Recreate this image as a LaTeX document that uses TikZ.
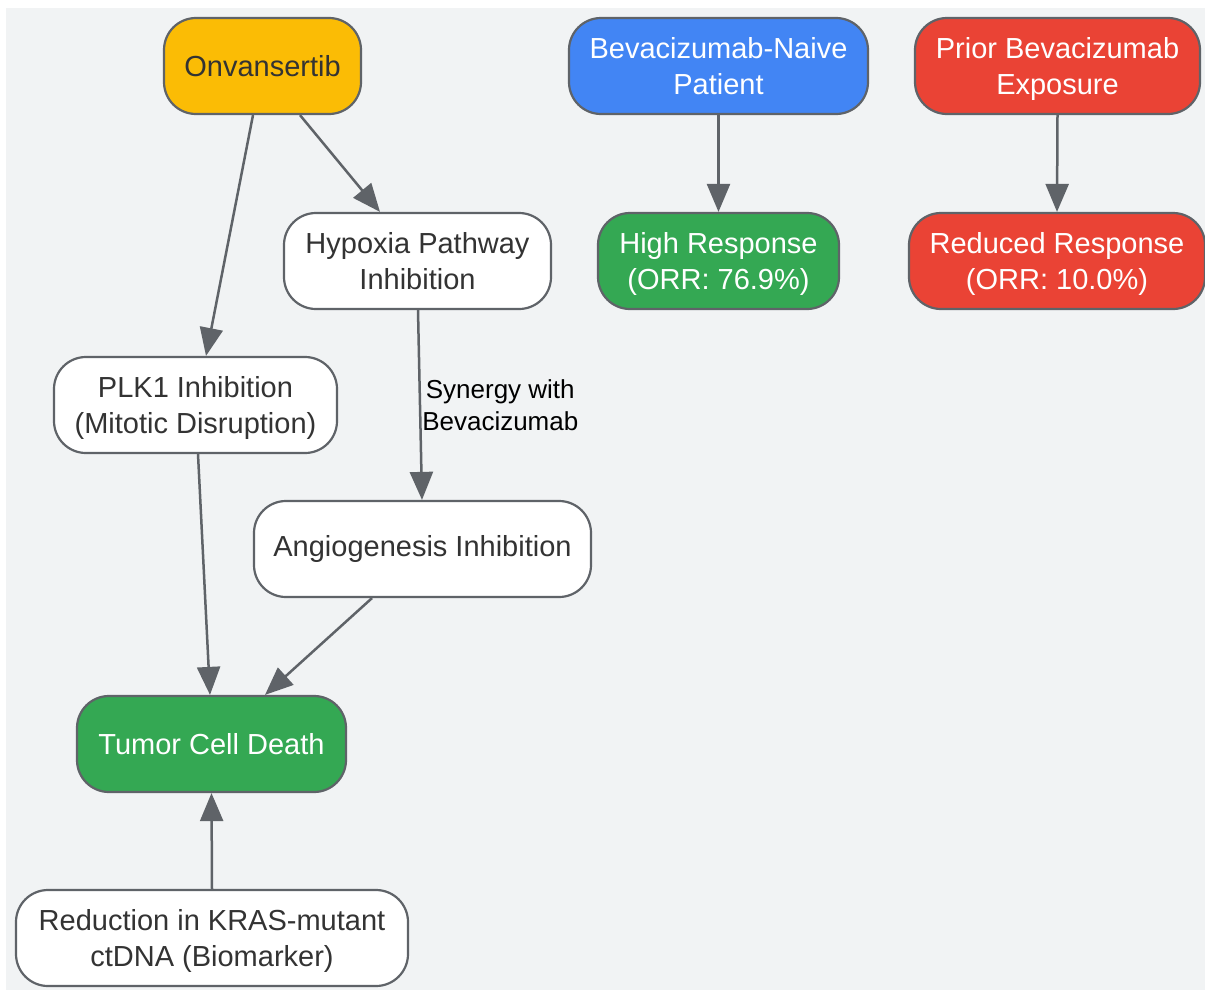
\documentclass[tikz,border=0pt]{standalone}
\usepackage{fontspec}
\setmainfont{Liberation Sans}
\usetikzlibrary{arrows.meta}
\definecolor{bg}{HTML}{F1F3F4}
\definecolor{edgegray}{HTML}{5F6368}
\definecolor{txt}{HTML}{333333}
\definecolor{gyellow}{HTML}{FBBC05}
\definecolor{gblue}{HTML}{4285F4}
\definecolor{gred}{HTML}{EA4335}
\definecolor{ggreen}{HTML}{34A853}
\newcommand{\tstrut}{\rule{0pt}{29pt}}
\newcommand{\bstrut}{\rule[-8pt]{0pt}{8pt}}
\tikzset{
  x=1pt, y=-1pt,
  box/.style={draw=edgegray, line width=2.2pt, rounded corners=32pt, minimum height=96pt,
    inner sep=0pt, align=center, font=\fontsize{29}{36}\selectfont, text=txt},
  whitebox/.style={box, fill=white},
  yellowbox/.style={box, fill=gyellow},
  bluebox/.style={box, fill=gblue, text=white},
  redbox/.style={box, fill=gred, text=white},
  greenbox/.style={box, fill=ggreen, text=white},
  arr/.style={draw=edgegray, line width=2.5pt, -{Triangle[length=28pt,width=23pt]}},
  elabel/.style={font=\fontsize{26}{32}\selectfont, text=black, align=center, inner sep=0pt}
}
\begin{document}
\begin{tikzpicture}
\useasboundingbox (0,0) rectangle (1205,993);
\fill[bg] (6,8) rectangle (1205,990);

\node[yellowbox, minimum width=197pt] (onv) at (262.5,66) {Onvansertib};
\node[bluebox, minimum width=299pt] (naive) at (718.5,66) {\tstrut Bevacizumab-Naive\\Patient\bstrut};
\node[redbox, minimum width=285pt] (prior) at (1057.5,66) {\tstrut Prior Bevacizumab\\Exposure\bstrut};
\node[whitebox, minimum width=267pt] (hyp) at (417.5,261) {\tstrut Hypoxia Pathway\\Inhibition\bstrut};
\node[greenbox, minimum width=241pt] (high) at (718.5,261) {\tstrut High Response\\(ORR: 76.9\%)\bstrut};
\node[redbox, minimum width=296pt] (red) at (1057,261) {\tstrut Reduced Response\\(ORR: 10.0\%)\bstrut};
\node[whitebox, minimum width=283pt] (plk) at (195.5,405) {\tstrut PLK1 Inhibition\\(Mitotic Disruption)\bstrut};
\node[whitebox, minimum width=337pt] (ang) at (422.5,549) {Angiogenesis Inhibition};
\node[greenbox, minimum width=269pt] (tum) at (211.5,744) {Tumor Cell Death};
\node[whitebox, minimum width=392pt] (kras) at (212,938) {\tstrut Reduction in KRAS-mutant\\ctDNA (Biomarker)\bstrut};

\draw[arr] ([xshift=-9.5pt]onv.south) -- ([xshift=10.5pt]plk.north);
\draw[arr] ([xshift=37.5pt]onv.south) -- ([xshift=-37.5pt]hyp.north);
\draw[arr] ([xshift=0.5pt]hyp.south) -- node[elabel, anchor=west, xshift=1pt] (lab) {Synergy with\\Bevacizumab} ([xshift=-0.5pt]ang.north);
\draw[arr] ([xshift=2.5pt]plk.south) -- ([xshift=-1.5pt]tum.north);
\draw[arr] ([xshift=-50.5pt]ang.south) -- ([xshift=53.5pt]tum.north);
\draw[arr] (kras.north) -- (tum.south);
\draw[arr] (naive.south) -- (high.north);
\draw[arr] (prior.south) -- (red.north);
\end{tikzpicture}
\end{document}
